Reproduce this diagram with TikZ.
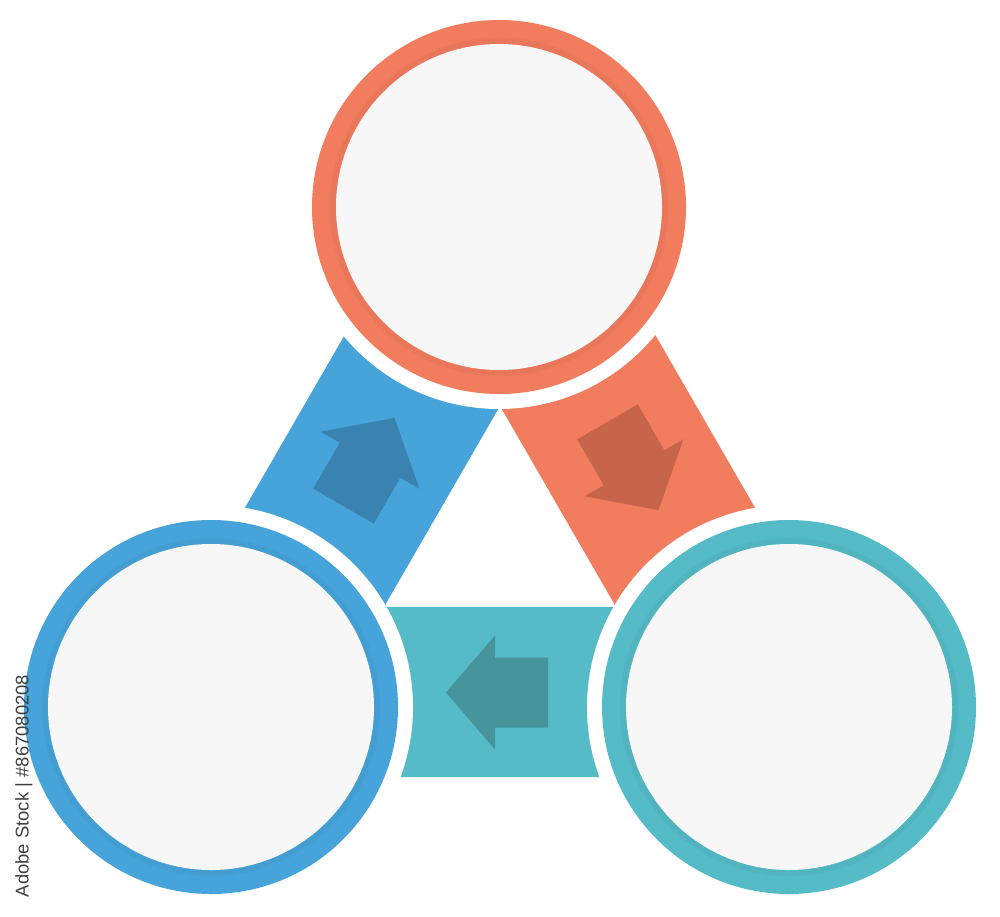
\documentclass[tikz,border=0pt]{standalone}
\usepackage{fontspec}
\setmainfont{Liberation Sans}
\definecolor{cOrange}{HTML}{F27C5E}
\definecolor{cBlue}{HTML}{46A4DA}
\definecolor{cTeal}{HTML}{55BBC7}
\definecolor{aOrange}{HTML}{C7654B}
\definecolor{aBlue}{HTML}{3A82B0}
\definecolor{aTeal}{HTML}{47949D}
\definecolor{cDisk}{HTML}{F7F7F7}
\definecolor{cMark}{HTML}{404040}
\tikzset{
  halo/.style={fill=white},
  ringshape/.style={fill=#1},
  disk/.style={fill=cDisk},
  innershade/.style={draw=#1!80!black, line width=1.6pt, opacity=0.12},
  arrowshape/.style={fill=#1},
  band/.style={fill=#1}
}
\begin{document}
\begin{tikzpicture}[x=0.02cm,y=-0.02cm]
\useasboundingbox (0,0) rectangle (1000,916);
\fill[white] (0,0) rectangle (1000,916);
% triangle vertices
\coordinate (iT) at (500,406);
\coordinate (iL) at (383.96,607);
\coordinate (iR) at (616.04,607);
\coordinate (oT) at (500,66);
\coordinate (oL) at (89.5,777);
\coordinate (oR) at (910.5,777);
% bands
\fill[band=cTeal] (oL) -- (oR) -- (iR) -- (iL) -- cycle;
\fill[band=cBlue] (oT) -- (oL) -- (iL) -- (iT) -- cycle;
\fill[band=cOrange] (oT) -- (oR) -- (iR) -- (iT) -- cycle;
% arrows
\begin{scope}[shift={(369,462)},rotate=60]
  \fill[arrowshape=aBlue] (51,0) -- (2,57) -- (2,35) -- (-51,35) -- (-51,-35) -- (2,-35) -- (2,-57) -- cycle;
\end{scope}
\begin{scope}[shift={(633,466)},rotate=-60]
  \fill[arrowshape=aOrange] (51,0) -- (2,57) -- (2,35) -- (-51,35) -- (-51,-35) -- (2,-35) -- (2,-57) -- cycle;
\end{scope}
\begin{scope}[shift={(497,692.5)},rotate=180]
  \fill[arrowshape=aTeal] (51,0) -- (2,57) -- (2,35) -- (-51,35) -- (-51,-35) -- (2,-35) -- (2,-57) -- cycle;
\end{scope}
% circle centres
\coordinate (cT) at (499,207);
\coordinate (cL) at (211,707);
\coordinate (cR) at (789,707);
% halos
\fill[halo] (cT) circle[radius=202];
\fill[halo] (cL) circle[radius=202];
\fill[halo] (cR) circle[radius=202];
% rings
\fill[ringshape=cOrange] (cT) circle[radius=187];
\fill[ringshape=cBlue] (cL) circle[radius=187];
\fill[ringshape=cTeal] (cR) circle[radius=187];
\foreach \r in {164,166,168}{
  \draw[innershade=cOrange] (cT) circle[radius=\r];
  \draw[innershade=cBlue] (cL) circle[radius=\r];
  \draw[innershade=cTeal] (cR) circle[radius=\r];
}
\fill[disk] (cT) circle[radius=163];
\fill[disk] (cL) circle[radius=163];
\fill[disk] (cR) circle[radius=163];
% vertical credit
\node[rotate=90, text=cMark, font=\fontsize{10.5}{12}\selectfont, inner sep=0pt] (credit) at (24,786) {Adobe Stock | \#867080208};
\end{tikzpicture}
\end{document}
